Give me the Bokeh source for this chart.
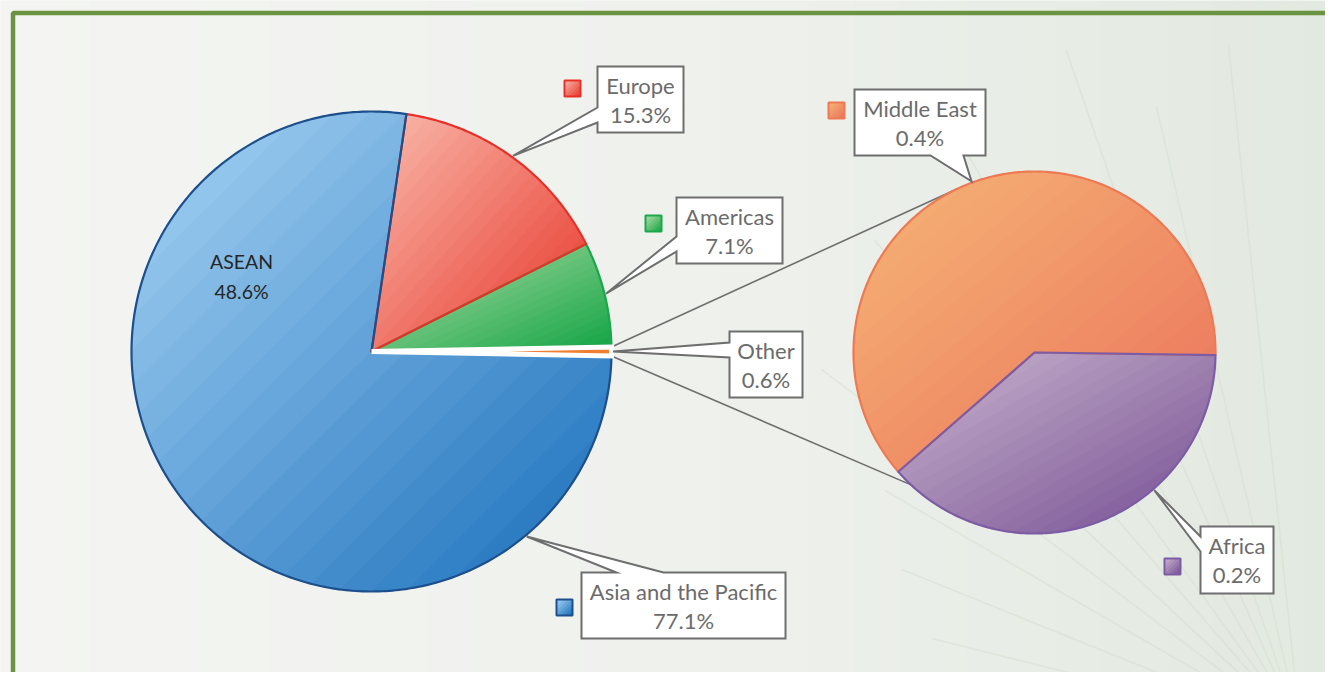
import numpy as np
from bokeh.plotting import figure
from bokeh.models import Range1d
from bokeh.embed import file_html
from bokeh.resources import INLINE
from bokeh.core.properties import value

# ---------------- data ----------------
main_categories = ["Asia and the Pacific", "Europe", "Americas"]
main_values = [77.1, 15.3, 7.1]
sub_categories = ["Middle East", "Africa"]
sub_values = [0.37, 0.23]
other_label = "Other"
asean_label = "ASEAN"
asean_value = 48.6

# ---------------- layout / style ----------------
W, H = 1325, 672
MAIN_C = (371.0, 351.0)
MAIN_R = 240.0
SUB_C = (1034.0, 352.0)
SUB_R = 181.0
SUB_START = -0.8
TEXT_DY = -8.0

FILLS = {
    "Asia and the Pacific": ("#aad6f5", "#166cba"),
    "Europe": ("#f9bcae", "#e73327"),
    "Americas": ("#b8dfab", "#12a444"),
    "Other": ("#f39a52", "#ee7f35"),
    "Middle East": ("#f6b676", "#eb715b"),
    "Africa": ("#cbb8d0", "#744c91"),
}
EDGES = {
    "Asia and the Pacific": "#1c4f8c",
    "Europe": "#e8302a",
    "Americas": "#19a84b",
    "Other": "#ffffff",
    "Middle East": "#ee7955",
    "Africa": "#7c5ca5",
}
TEXT_GRAY = "#6b6b6b"
FONT = "Lato"

CALLOUTS = {
    "Asia and the Pacific": dict(box=(581, 572, 785, 638), side="top", base=(616, 663), tip_angle=-50, legend=(564, 607)),
    "Europe": dict(box=(597, 66, 683, 132), side="left", base=(107, 122), tip_angle=None, legend=(572, 88)),
    "Americas": dict(box=(676, 197, 782, 263), side="left", base=(236, 251), tip_angle=None, legend=(653, 223)),
    "Other": dict(box=(729, 331, 802, 397), side="left", base=(342, 357), tip_angle=None, legend=None),
    "Middle East": dict(box=(854, 89, 985, 155), side="bottom", base=(930, 963), tip_angle=None, legend=(836, 110)),
    "Africa": dict(box=(1200, 526, 1273, 593), side="left", base=(536, 551), tip_angle=311, legend=(1172, 566)),
}
ASEAN_POS = (241, 269)
CONNECT_ANGLES = (115.0, 227.0)


# ---------------- helpers ----------------
def pt(c, r, a):
    t = np.radians(a)
    return (c[0] + r * np.cos(t), c[1] - r * np.sin(t))


def wedge(c, r, a0, a1):
    n = max(4, int(abs(a1 - a0) / 0.8) + 2)
    angs = np.linspace(a0, a1, n)
    return [c] + [pt(c, r, a) for a in angs]


def convex_pieces(c, r, a0, a1):
    k = int(np.ceil((a1 - a0) / 90.0))
    edges = np.linspace(a0, a1, k + 1)
    return [wedge(c, r, edges[i], edges[i + 1]) for i in range(k)]


def clip(poly, a, b, cc):
    out = []
    n = len(poly)
    for i in range(n):
        P = poly[i]
        Q = poly[(i + 1) % n]
        fp = a * P[0] + b * P[1] - cc
        fq = a * Q[0] + b * Q[1] - cc
        if fp >= 0:
            out.append(P)
        if (fp >= 0) != (fq >= 0):
            t = fp / (fp - fq)
            out.append((P[0] + t * (Q[0] - P[0]), P[1] + t * (Q[1] - P[1])))
    return out


def hex2rgb(h):
    h = h.lstrip("#")
    return np.array([int(h[i:i + 2], 16) for i in (0, 2, 4)], dtype=float)


def mix(c0, c1, t):
    a, b = hex2rgb(c0), hex2rgb(c1)
    m = a + (b - a) * t
    return "#%02x%02x%02x" % tuple(int(round(v)) for v in m)


def gradient(pieces, c0, c1, n=28):
    allp = np.array([q for pc in pieces for q in pc])
    x0, y0 = allp.min(axis=0)
    x1, y1 = allp.max(axis=0)
    wx = max(x1 - x0, 1e-6)
    wy = max(y1 - y0, 1e-6)
    a = 0.5 / wx
    b = 0.5 / wy
    off = 0.5 * x0 / wx + 0.5 * y0 / wy
    xs, ys, cols = [], [], []
    for i in range(n):
        t0, t1 = i / n, (i + 1) / n
        col = mix(c0, c1, (t0 + t1) / 2)
        for pc in pieces:
            q = clip(pc, a, b, t0 + off) if i > 0 else pc
            if len(q) >= 3 and i < n - 1:
                q = clip(q, -a, -b, -(t1 + off))
            if len(q) >= 3:
                xs.append([v[0] for v in q])
                ys.append([v[1] for v in q])
                cols.append(col)
    return xs, ys, cols


def callout_poly(box, side, base, tip):
    x0, y0, x1, y1 = box
    if side == "left":
        return [(x0, y0), (x1, y0), (x1, y1), (x0, y1), (x0, base[1]), tip, (x0, base[0])]
    if side == "top":
        return [(x0, y0), (base[0], y0), tip, (base[1], y0), (x1, y0), (x1, y1), (x0, y1)]
    if side == "bottom":
        return [(x0, y0), (x1, y0), (x1, y1), (base[1], y1), tip, (base[0], y1), (x0, y1)]
    return [(x0, y0), (x1, y0), (x1, base[0]), tip, (x1, base[1]), (x1, y1), (x0, y1)]


# ---------------- angles ----------------
other_value = sum(sub_values)
main_vals = dict(zip(main_categories, main_values))
main_vals["Other"] = other_value
total = sum(main_vals.values())
order_ccw = ["Other", "Americas", "Europe", "Asia and the Pacific"]
spans = {}
a = -360.0 * other_value / total / 2.0
for name in order_ccw:
    d = 360.0 * main_vals[name] / total
    spans[name] = (a, a + d)
    a += d

sub_total = sum(sub_values)
a = SUB_START
for name, v in zip(sub_categories, sub_values):
    d = 360.0 * v / sub_total
    spans[name] = (a, a + d)
    a += d

centers = {n: (MAIN_C, MAIN_R) for n in order_ccw}
for n in sub_categories:
    centers[n] = (SUB_C, SUB_R)

# ---------------- figure ----------------
p = figure(width=W, height=H, x_range=Range1d(0, W), y_range=Range1d(H, 0),
           output_backend="svg", toolbar_location=None, min_border=0)
p.xaxis.visible = False
p.yaxis.visible = False
p.xgrid.visible = False
p.ygrid.visible = False
p.outline_line_color = None
p.background_fill_color = "#f2f3f0"
p.border_fill_color = "#f2f3f0"

# background tint (left pale -> right greenish)
bx = np.linspace(0, W, 60)
bcols = []
for i in range(len(bx) - 1):
    t = bx[i] / W
    if t < 0.5:
        bcols.append(mix("#f4f5f2", "#eff1ed", t / 0.5))
    else:
        bcols.append(mix("#eff1ed", "#e2e9e0", (t - 0.5) / 0.5))
p.quad(left=bx[:-1], right=bx[1:] + 0.6, top=[0] * (len(bx) - 1), bottom=[H] * (len(bx) - 1),
       fill_color=bcols, line_color=None)

# faint plant decoration
ray_src = (1300.0, 730.0)
ray_angles = [96, 103, 109, 114, 120, 126, 131, 137, 143, 150, 158, 166]
ray_lens = [690, 640, 720, 600, 680, 560, 650, 520, 600, 480, 430, 380]
rx, ry = [], []
for ang, ln in zip(ray_angles, ray_lens):
    e = pt(ray_src, ln, ang)
    rx.append([ray_src[0], e[0]])
    ry.append([ray_src[1], e[1]])
p.multi_line(rx, ry, line_color="#cddbc7", line_alpha=0.4, line_width=1.6)

# green frame
p.line(x=[12.5, 12.5, W], y=[H, 12.5, 12.5], line_color="#6a9441", line_width=4.5)

# connector lines (drawn under the pies)
oa0, oa1 = spans["Other"]
s_up = pt(MAIN_C, MAIN_R, oa1)
s_dn = pt(MAIN_C, MAIN_R, oa0)
e_up = pt(SUB_C, SUB_R, CONNECT_ANGLES[0])
e_dn = pt(SUB_C, SUB_R, CONNECT_ANGLES[1])
p.multi_line([[s_up[0], e_up[0]], [s_dn[0], e_dn[0]]], [[s_up[1], e_up[1]], [s_dn[1], e_dn[1]]],
             line_color="#6e6e6e", line_width=1.6)

# gradient fills
FXS, FYS, FCS = [], [], []
slice_polys = {}
for name in ["Americas", "Europe", "Asia and the Pacific", "Middle East", "Africa"]:
    c, r = centers[name]
    a0, a1 = spans[name]
    pieces = convex_pieces(c, r, a0, a1)
    xs, ys, cs = gradient(pieces, *FILLS[name])
    FXS += xs
    FYS += ys
    FCS += cs
    slice_polys[name] = wedge(c, r, a0, a1)
p.patches(FXS, FYS, fill_color=FCS, line_color=FCS, line_width=1.0)

# outlines
order_out = ["Americas", "Europe", "Asia and the Pacific", "Middle East", "Africa"]
p.patches([[v[0] for v in slice_polys[n]] for n in order_out],
          [[v[1] for v in slice_polys[n]] for n in order_out],
          fill_alpha=0, line_color=[EDGES[n] for n in order_out], line_width=2.2, line_join="round")

# "Other" slice (thin, white rim)
oc, orr = centers["Other"]
opoly = wedge(oc, orr, *spans["Other"])
p.patch([v[0] for v in opoly], [v[1] for v in opoly], fill_color=FILLS["Other"][1],
        line_color="#ffffff", line_width=5, line_join="miter")

# callouts
label_values = dict(main_vals)
label_values.update(dict(zip(sub_categories, sub_values)))
cxs, cys = [], []
tx, ty1, ty2, t1, t2 = [], [], [], [], []
for name, cfg in CALLOUTS.items():
    c, r = centers[name]
    ang = cfg["tip_angle"]
    if ang is None:
        ang = 0.5 * (spans[name][0] + spans[name][1])
    tip = pt(c, r + 1.5, ang)
    poly = callout_poly(cfg["box"], cfg["side"], cfg["base"], tip)
    cxs.append([v[0] for v in poly])
    cys.append([v[1] for v in poly])
    x0, y0, x1, y1 = cfg["box"]
    cy = 0.5 * (y0 + y1)
    tx.append(0.5 * (x0 + x1))
    ty1.append(cy - 6.5 + TEXT_DY)
    ty2.append(cy + 22.5 + TEXT_DY)
    t1.append(name)
    t2.append("%.1f%%" % label_values[name])
p.patches(cxs, cys, fill_color="#ffffff", line_color="#6e6e6e", line_width=2, line_join="miter")
p.text(x=tx, y=ty1, text=t1, text_font=value(FONT), text_font_size="22px", text_color=TEXT_GRAY,
       text_align="center", text_baseline="alphabetic")
p.text(x=tx, y=ty2, text=t2, text_font=value(FONT), text_font_size="22px", text_color=TEXT_GRAY,
       text_align="center", text_baseline="alphabetic")

# legend squares
LX, LY, LC = [], [], []
lo_x, lo_y, lo_c = [], [], []
for name, cfg in CALLOUTS.items():
    if cfg["legend"] is None:
        continue
    lx, ly = cfg["legend"]
    s = 8.0
    sq = [(lx - s, ly - s), (lx + s, ly - s), (lx + s, ly + s), (lx - s, ly + s)]
    xs, ys, cs = gradient([sq], *FILLS[name], n=8)
    LX += xs
    LY += ys
    LC += cs
    lo_x.append([v[0] for v in sq])
    lo_y.append([v[1] for v in sq])
    lo_c.append(EDGES[name])
p.patches(LX, LY, fill_color=LC, line_color=LC, line_width=0.8)
p.patches(lo_x, lo_y, fill_alpha=0, line_color=lo_c, line_width=2)

# ASEAN inner label
p.text(x=[ASEAN_POS[0], ASEAN_POS[0]], y=[ASEAN_POS[1] + TEXT_DY, ASEAN_POS[1] + 30 + TEXT_DY],
       text=[asean_label, "%.1f%%" % asean_value], text_font=value(FONT), text_font_size="19.5px",
       text_color="#262626", text_align="center", text_baseline="alphabetic")

open("out.html", "w").write(file_html(p, INLINE))
